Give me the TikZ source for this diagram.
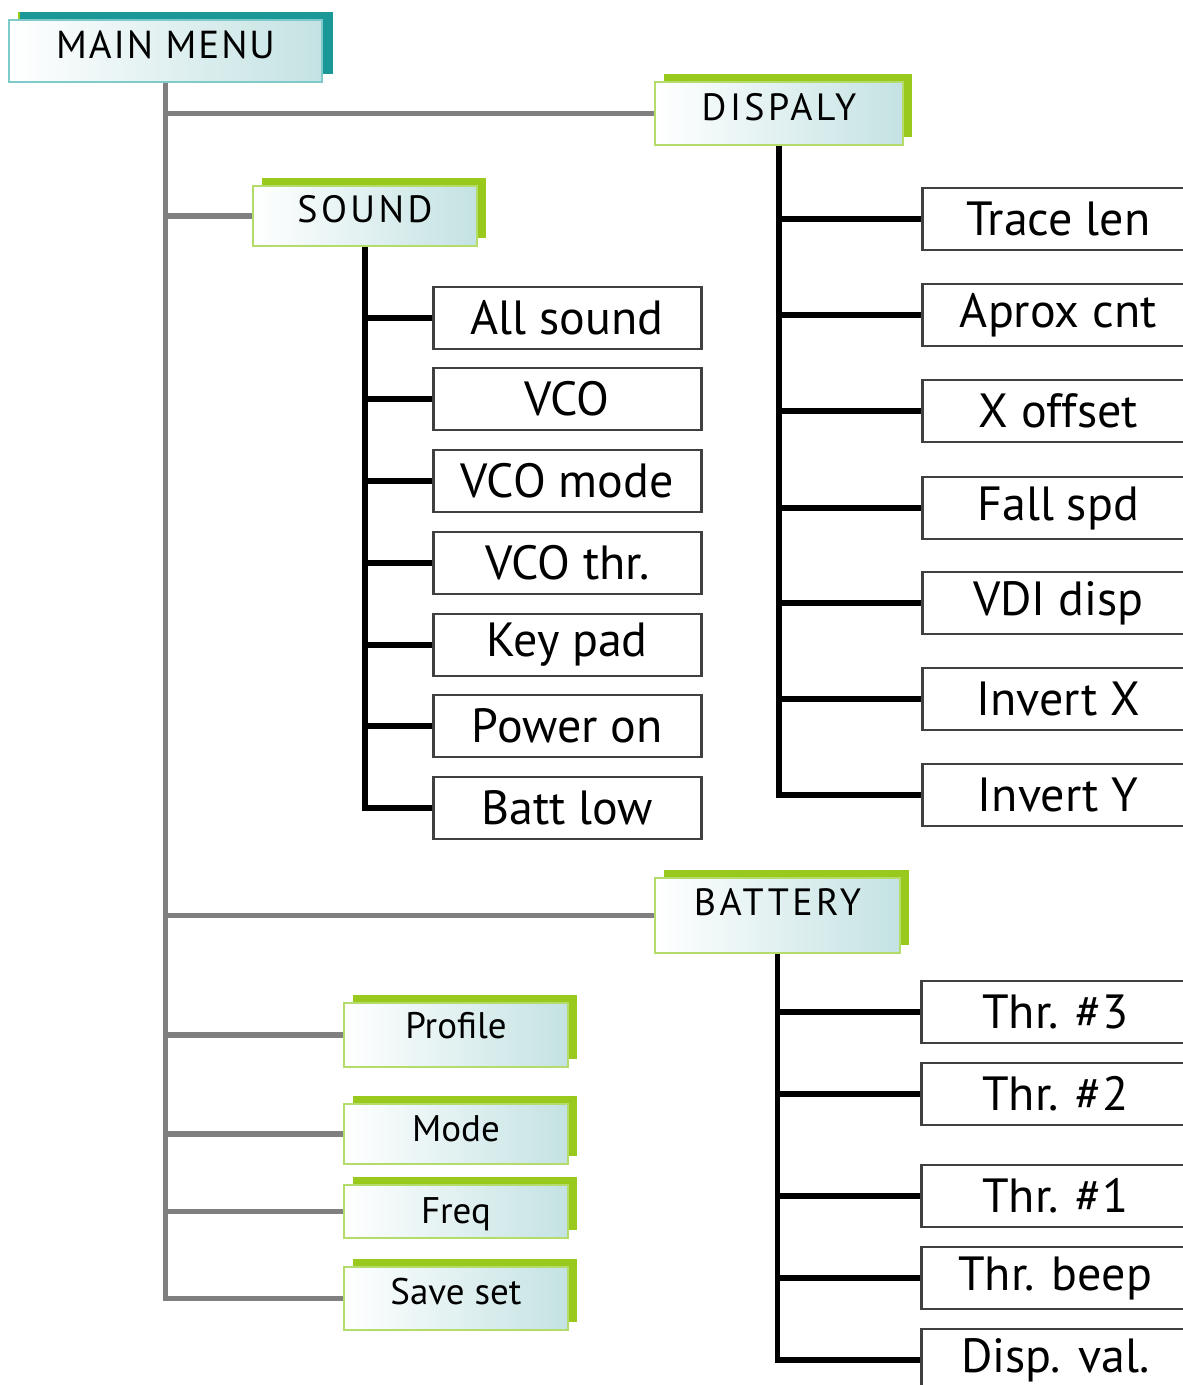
\documentclass[tikz,border=0pt]{standalone}
\usepackage{fontspec}
\setmainfont{PT Sans}
\newfontfamily\capsfont[LetterSpace=9]{PT Sans}
\newfontfamily\mainfont[LetterSpace=5]{PT Sans}
\usetikzlibrary{shadows}
\definecolor{tealdark}{HTML}{1A9898}
\definecolor{teallight}{HTML}{7FCACA}
\definecolor{limedark}{HTML}{99C91C}
\definecolor{limelight}{HTML}{B4DC6A}
\definecolor{icefill}{HTML}{C4E2E3}
\definecolor{trunkgray}{HTML}{7F7F7F}
\begin{document}
\begin{tikzpicture}[x=1pt, y=-1pt,
    menubox/.style={draw=limelight, line width=2.5pt, left color=white, right color=icefill,
        minimum width=224pt, inner sep=0pt, text height=26pt, text depth=#1,
        font=\fontsize{37}{40}\selectfont,
        general shadow={fill=limedark, shadow xshift=9pt, shadow yshift=8pt}},
    menubox/.default=14pt,
    leaf/.style={draw=black!75, line width=2.5pt, fill=white, minimum height=62pt,
        inner sep=0pt, anchor=west, font=\fontsize{48}{52}\selectfont},
    gline/.style={trunkgray, line width=5.5pt},
    bline/.style={black, line width=5.5pt}]
    \useasboundingbox (0,0) rectangle (1183,1385);
    \clip (0,0) rectangle (1183,1385);

    % Menu heads
    \node[menubox=12pt, draw=teallight, minimum width=313pt, minimum height=62pt,
        general shadow={fill=tealdark, shadow xshift=11pt, shadow yshift=8pt},
        font=\mainfont\fontsize{39}{42}\selectfont] (main) at (165.5,51) {MAIN MENU};
    \node[menubox=12pt, minimum width=248pt, minimum height=63pt,
        font=\capsfont\fontsize{38}{40}\selectfont] (disp) at (779,113.5) {DISPALY};
    \node[menubox=14pt, minimum height=60pt,
        font=\capsfont\fontsize{38}{40}\selectfont] (sound) at (365,216) {SOUND};
    \node[menubox=26pt, minimum width=245pt, minimum height=75pt,
        font=\capsfont\fontsize{38}{40}\selectfont] (batt) at (777.5,915.5) {BATTERY};
    \node[menubox=20pt, minimum height=64pt] (profile) at (456,1035) {Profile};
    \node[menubox=12pt, minimum height=60pt] (mode) at (456,1134) {Mode};
    \node[menubox=2pt, minimum height=53pt] (freq) at (456,1211.5) {Freq};
    \node[menubox=15pt, minimum height=63pt] (save) at (456,1298.5) {Save set};

    % Main trunk
    \draw[gline] (main.south) |- (save.west);
    \foreach \head in {disp, sound, batt, profile, mode, freq}
        \draw[gline] (main.south |- \head.west) -- (\head.west);

    % Sound items
    \foreach \name/\y/\txt in {all/318/All sound, vco/399/VCO, vcomode/481/VCO mode,
            vcothr/563/VCO thr., keypad/645/Key pad, poweron/726/Power on, battlow/808/Batt low} {
        \node[leaf, minimum width=268pt] (\name) at (432,\y) {\txt};
        \draw[bline] (sound.south |- \name.west) -- (\name.west);
    }
    \draw[bline] (sound.south) |- (battlow.west);

    % Display items
    \foreach \name/\y/\txt in {trace/219/Trace len, aprox/315/Aprox cnt, xoff/411/X offset,
            fall/508/Fall spd, vdi/603/VDI disp, invx/699/Invert X, invy/795/Invert Y} {
        \node[leaf, minimum width=272pt] (\name) at (921,\y) {\txt};
        \draw[bline] (disp.south |- \name.west) -- (\name.west);
    }
    \draw[bline] (disp.south) |- (invy.west);

    % Battery items
    \foreach \name/\y/\txt in {thrc/1012/Thr. \#3, thrb/1094/Thr. \#2, thra/1196/Thr. \#1,
            beep/1278/Thr. beep, dval/1360/Disp. val.} {
        \node[leaf, minimum width=268pt] (\name) at (920,\y) {\txt};
        \draw[bline] (batt.south |- \name.west) -- (\name.west);
    }
    \draw[bline] (batt.south) |- (dval.west);
\end{tikzpicture}
\end{document}
